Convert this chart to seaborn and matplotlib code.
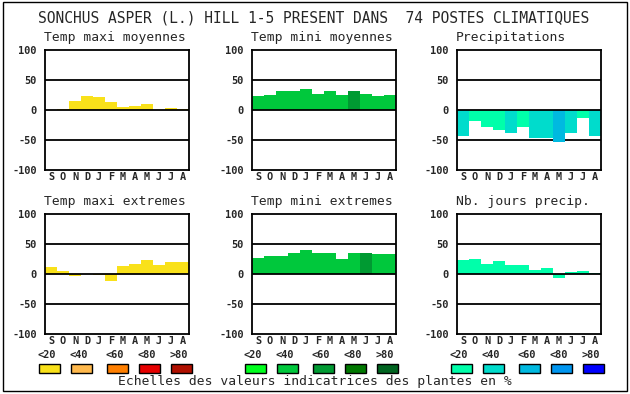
import matplotlib
matplotlib.use("Agg")
import matplotlib.pyplot as plt
from matplotlib.patches import Rectangle
import seaborn as sns
import pandas as pd

sns.set_style("white")
plt.rcParams['font.family'] = ['DejaVu Sans Mono', 'DejaVu Sans']

# ---------------- data ----------------
months = ['S', 'O', 'N', 'D', 'J', 'F', 'M', 'A', 'M', 'J', 'J', 'A']
yticks = [-100, -50, 0, 50, 100]
ytick_labels = ['-100', '-50', '0', '50', '100']
classes = ['<20', '<40', '<60', '<80', '>80']

title = "SONCHUS ASPER (L.) HILL 1-5 PRESENT DANS  74 POSTES CLIMATIQUES"
scale_text = "Echelles des valeurs indicatrices des plantes en %"

panel_titles = ["Temp maxi moyennes", "Temp mini moyennes", "Precipitations",
                "Temp maxi extremes", "Temp mini extremes", "Nb. jours precip."]

tmax_moy = [0, 2, 15, 23, 22, 13, 5, 7, 10, 0, 3, 1.5]
tmax_moy_cls = ['<20'] * 12
tmin_moy = [23, 25, 32, 32, 35, 27, 32, 25, 32, 27, 23, 25]
tmin_moy_cls = ['<40'] * 8 + ['<60'] + ['<40'] * 3
precip = [-43, -18, -28, -33, -38, -28, -46, -46, -54, -38, -14, -43]
precip_cls = ['<40', '<20', '<20', '<20', '<40', '<20', '<40', '<40', '<60', '<40', '<20', '<40']
tmax_ext = [12, 5, -3, 0, -2, -11, 13, 17, 23, 15, 20, 20]
tmax_ext_cls = ['<20'] * 12
tmin_ext = [27, 30, 30, 35, 40, 35, 35, 25, 35, 35, 33, 33]
tmin_ext_cls = ['<40'] * 9 + ['<60'] + ['<40'] * 2
nb_jours = [23, 25, 17, 22, 15, 15, 7, 10, -7, 3, 5, 2]
nb_jours_cls = ['<20'] * 12

yellow_scale = ['#f9e11a', '#ffb94d', '#ff7f00', '#e60000', '#b01000']
green_scale = ['#00ff1e', '#00c83c', '#009a32', '#007800', '#006420']
blue_scale = ['#00ffaa', '#00dccc', '#00b9e0', '#0096f0', '#0000ff']

panels = [
    (tmax_moy, tmax_moy_cls, yellow_scale),
    (tmin_moy, tmin_moy_cls, green_scale),
    (precip, precip_cls, blue_scale),
    (tmax_ext, tmax_ext_cls, yellow_scale),
    (tmin_ext, tmin_ext_cls, green_scale),
    (nb_jours, nb_jours_cls, blue_scale),
]

# ---------------- layout (pixels) ----------------
W, H = 630, 394
fig = plt.figure(figsize=(W / 100, H / 100), dpi=100)
fig.patch.set_facecolor('white')

col_left = [45, 252, 457]
row_top = [50, 214]
pw, ph = 144, 120
tick_fs = 7.4


def fx(x):
    return x / W


def fy(y):
    return 1 - y / H


for i, (vals, cls, scale) in enumerate(panels):
    r, c = divmod(i, 3)
    left, top = col_left[c], row_top[r]
    ax = fig.add_axes([fx(left), fy(top + ph), pw / W, ph / H])
    df = pd.DataFrame({'pos': list(range(12)), 'val': vals, 'cls': cls})
    pal = dict(zip(classes, scale))
    for yv in (50, -50):
        ax.axhline(yv, color='black', lw=1.3, zorder=0.5)
    sns.barplot(data=df, x='pos', y='val', hue='cls', palette=pal,
                order=list(range(12)), hue_order=classes, dodge=False,
                width=1.0, linewidth=0, saturation=1, legend=False, ax=ax,
                zorder=1)
    ax.axhline(0, color='black', lw=1.3, zorder=3)
    ax.set_xlim(-0.5, 11.5)
    ax.set_ylim(-100, 100)
    ax.set_xticks(range(12))
    ax.set_xticklabels(months, fontsize=tick_fs, fontweight='bold')
    ax.set_yticks(yticks)
    ax.set_yticklabels(ytick_labels, fontsize=tick_fs, fontweight='bold')
    ax.tick_params(axis='y', length=0, pad=6)
    ax.tick_params(axis='x', length=0, pad=1.5)
    ax.set_xlabel('')
    ax.set_ylabel('')
    ax.grid(False)
    for s in ax.spines.values():
        s.set_visible(True)
        s.set_color('black')
        s.set_linewidth(1.3)
    fig.text(fx(left - 1), fy(top - 12), panel_titles[i], fontsize=9.4,
             ha='left', va='center')

# main title
fig.text(fx(314), fy(18), title, fontsize=10.5, ha='center', va='center')

# colour scales
box_lefts = [[39, 71, 107, 139, 171], [245, 277, 313, 345, 377], [451, 483, 519, 551, 583]]
for lefts, scale in zip(box_lefts, [yellow_scale, green_scale, blue_scale]):
    for bl, col, lab in zip(lefts, scale, classes):
        fig.add_artist(Rectangle((fx(bl), fy(373)), 21 / W, 9 / H,
                                 transform=fig.transFigure, facecolor=col,
                                 edgecolor='black', lw=1))
        fig.text(fx(bl + 8), fy(355), lab, fontsize=tick_fs, fontweight='bold',
                 ha='center', va='center')

fig.text(fx(315), fy(382), scale_text, fontsize=9.4, ha='center', va='center')

# outer frame
fig.add_artist(Rectangle((fx(3), fy(391)), 624 / W, 389 / H,
                         transform=fig.transFigure, facecolor='none',
                         edgecolor='black', lw=1))

fig.savefig('out.png', dpi=100, facecolor='white')
